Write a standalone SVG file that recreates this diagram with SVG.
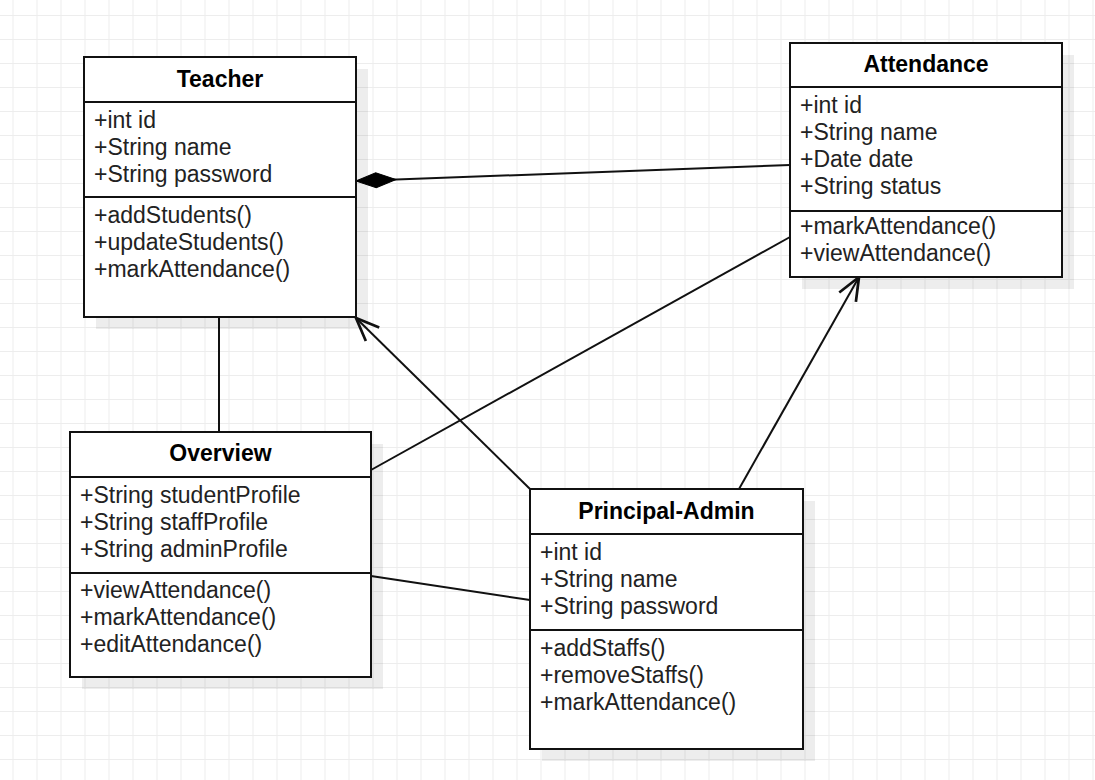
<svg xmlns="http://www.w3.org/2000/svg" width="1095" height="780" viewBox="0 0 1095 780">
<defs>
<pattern id="grid" x="12.5" y="15" width="24" height="24" patternUnits="userSpaceOnUse">
<path d="M0.5,0 V24 M0,0.5 H24" fill="none" stroke="#ededed" stroke-width="1"/>
</pattern>
<marker id="open" markerUnits="userSpaceOnUse" markerWidth="30" markerHeight="30" refX="0" refY="0" viewBox="-20 -10 22 20" orient="auto" overflow="visible">
<path d="M-17,-7 L0,0 L-17,7" fill="none" stroke="#111" stroke-width="2"/>
</marker>
<marker id="diamond" markerUnits="userSpaceOnUse" markerWidth="44" markerHeight="20" refX="0" refY="0" viewBox="-2 -10 44 20" orient="auto" overflow="visible">
<path d="M0,0 L20,-7.5 L40,0 L20,7.5 Z" fill="#000" stroke="#000" stroke-width="1"/>
</marker>
</defs>
<style>
.box{fill:#fff;stroke:#111;stroke-width:2}
.shadow{fill:#000;fill-opacity:0.07}
.div{stroke:#111;stroke-width:2}
.title{font-family:"Liberation Sans",Arial,sans-serif;font-size:23px;font-weight:bold;fill:#000;text-anchor:middle}
.txt{font-family:"Liberation Sans",Arial,sans-serif;font-size:23px;fill:#222}
.conn{fill:none;stroke:#111;stroke-width:2}
</style>
<rect width="1095" height="780" fill="#fff"/>
<rect width="1095" height="780" fill="url(#grid)"/>

<g id="connectors">
<path class="conn" d="M356,181 L790,165" marker-start="url(#diamond)"/>
<path class="conn" d="M219,317 L219,432"/>
<path class="conn" d="M371,470 L790,237"/>
<path class="conn" d="M371,576 L530,600"/>
<path class="conn" d="M530,489 L356,318" marker-end="url(#open)"/>
<path class="conn" d="M739,489 L859,277" marker-end="url(#open)"/>
</g>

<g id="teacher">
<rect class="shadow" x="96" y="69" width="272" height="260"/>
<rect class="box" x="84" y="57" width="272" height="260"/>
<line class="div" x1="84" y1="102" x2="356" y2="102"/>
<line class="div" x1="84" y1="197" x2="356" y2="197"/>
<text class="title" x="220" y="87">Teacher</text>
<text class="txt" x="94" y="128">+int id</text>
<text class="txt" x="94" y="155">+String name</text>
<text class="txt" x="94" y="182">+String password</text>
<text class="txt" x="94" y="223">+addStudents()</text>
<text class="txt" x="94" y="250">+updateStudents()</text>
<text class="txt" x="94" y="277">+markAttendance()</text>
</g>

<g id="attendance">
<rect class="shadow" x="802" y="55" width="272" height="234"/>
<rect class="box" x="790" y="43" width="272" height="234"/>
<line class="div" x1="790" y1="87" x2="1062" y2="87"/>
<line class="div" x1="790" y1="211" x2="1062" y2="211"/>
<text class="title" x="926" y="72">Attendance</text>
<text class="txt" x="800" y="113">+int id</text>
<text class="txt" x="800" y="140">+String name</text>
<text class="txt" x="800" y="167">+Date date</text>
<text class="txt" x="800" y="194">+String status</text>
<text class="txt" x="800" y="234">+markAttendance()</text>
<text class="txt" x="800" y="261">+viewAttendance()</text>
</g>

<g id="overview">
<rect class="shadow" x="82" y="444" width="301" height="245"/>
<rect class="box" x="70" y="432" width="301" height="245"/>
<line class="div" x1="70" y1="477" x2="371" y2="477"/>
<line class="div" x1="70" y1="573" x2="371" y2="573"/>
<text class="title" x="220.5" y="461">Overview</text>
<text class="txt" x="80" y="503">+String studentProfile</text>
<text class="txt" x="80" y="530">+String staffProfile</text>
<text class="txt" x="80" y="557">+String adminProfile</text>
<text class="txt" x="80" y="598">+viewAttendance()</text>
<text class="txt" x="80" y="625">+markAttendance()</text>
<text class="txt" x="80" y="652">+editAttendance()</text>
</g>

<g id="principal-admin">
<rect class="shadow" x="542" y="501" width="273" height="260"/>
<rect class="box" x="530" y="489" width="273" height="260"/>
<line class="div" x1="530" y1="534" x2="803" y2="534"/>
<line class="div" x1="530" y1="630" x2="803" y2="630"/>
<text class="title" x="666.5" y="519">Principal-Admin</text>
<text class="txt" x="540" y="560">+int id</text>
<text class="txt" x="540" y="587">+String name</text>
<text class="txt" x="540" y="614">+String password</text>
<text class="txt" x="540" y="656">+addStaffs()</text>
<text class="txt" x="540" y="683">+removeStaffs()</text>
<text class="txt" x="540" y="710">+markAttendance()</text>
</g>
</svg>
